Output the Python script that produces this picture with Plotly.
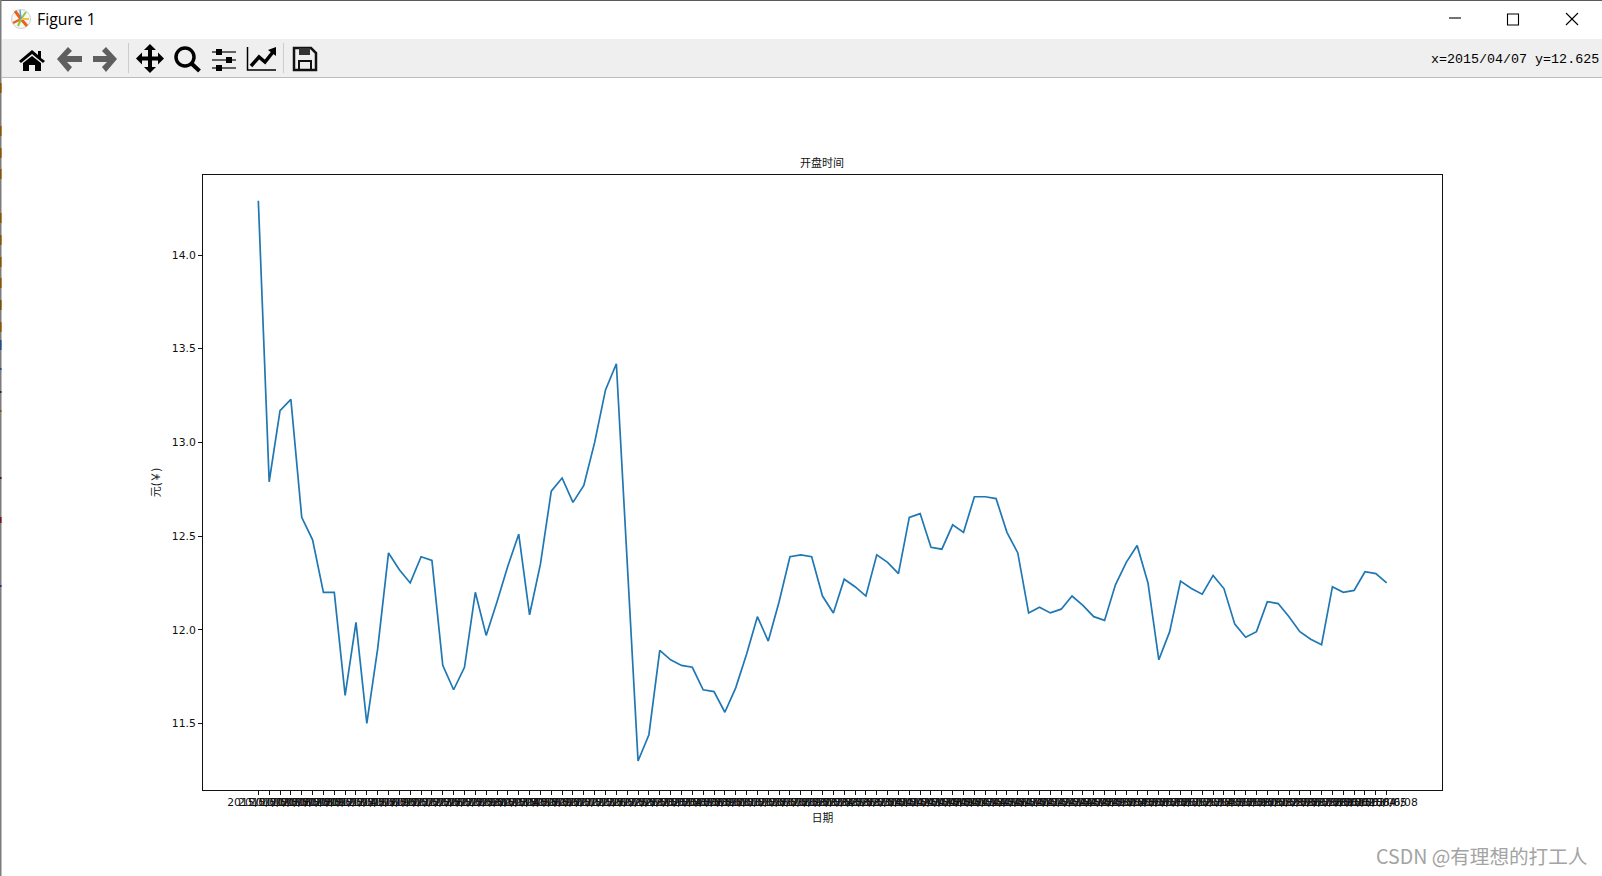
import plotly.graph_objects as go

dates = [
    "2015/01/02", "2015/01/05", "2015/01/06", "2015/01/07", "2015/01/08", "2015/01/09", "2015/01/12",
    "2015/01/13", "2015/01/14", "2015/01/15", "2015/01/16", "2015/01/19", "2015/01/20", "2015/01/21",
    "2015/01/22", "2015/01/23", "2015/01/26", "2015/01/27", "2015/01/28", "2015/01/29", "2015/01/30",
    "2015/02/02", "2015/02/03", "2015/02/04", "2015/02/05", "2015/02/06", "2015/02/09", "2015/02/10",
    "2015/02/11", "2015/02/12", "2015/02/13", "2015/02/16", "2015/02/17", "2015/02/25", "2015/02/26",
    "2015/02/27", "2015/03/02", "2015/03/03", "2015/03/04", "2015/03/05", "2015/03/06", "2015/03/09",
    "2015/03/10", "2015/03/11", "2015/03/12", "2015/03/13", "2015/03/16", "2015/03/17", "2015/03/18",
    "2015/03/19", "2015/03/20", "2015/03/23", "2015/03/24", "2015/03/25", "2015/03/26", "2015/03/27",
    "2015/03/30", "2015/03/31", "2015/04/01", "2015/04/02", "2015/04/03", "2015/04/07", "2015/04/08",
    "2015/04/09", "2015/04/10", "2015/04/13", "2015/04/14", "2015/04/15", "2015/04/16", "2015/04/17",
    "2015/04/20", "2015/04/21", "2015/04/22", "2015/04/23", "2015/04/24", "2015/04/27", "2015/04/28",
    "2015/04/29", "2015/04/30", "2015/05/04", "2015/05/05", "2015/05/06", "2015/05/07", "2015/05/08",
    "2015/05/11", "2015/05/12", "2015/05/13", "2015/05/14", "2015/05/15", "2015/05/18", "2015/05/19",
    "2015/05/20", "2015/05/21", "2015/05/22", "2015/05/25", "2015/05/26", "2015/05/27", "2015/05/28",
    "2015/05/29", "2015/06/01", "2015/06/02", "2015/06/03", "2015/06/04", "2015/06/05", "2015/06/08",
]
open_price = [
    14.29, 12.79, 13.17, 13.23, 12.60, 12.48, 12.20, 12.20, 11.65, 12.04,
    11.50, 11.90, 12.41, 12.32, 12.25, 12.39, 12.37, 11.81, 11.68, 11.80,
    12.20, 11.97, 12.15, 12.34, 12.51, 12.08, 12.35, 12.74, 12.81, 12.68,
    12.77, 13.00, 13.28, 13.42, 12.36, 11.30, 11.44, 11.89, 11.84, 11.81,
    11.80, 11.68, 11.67, 11.56, 11.69, 11.87, 12.07, 11.94, 12.15, 12.39,
    12.40, 12.39, 12.18, 12.09, 12.27, 12.23, 12.18, 12.40, 12.36, 12.30,
    12.60, 12.62, 12.44, 12.43, 12.56, 12.52, 12.71, 12.71, 12.70, 12.52,
    12.41, 12.09, 12.12, 12.09, 12.11, 12.18, 12.13, 12.07, 12.05, 12.24,
    12.36, 12.45, 12.25, 11.84, 11.99, 12.26, 12.22, 12.19, 12.29, 12.22,
    12.03, 11.96, 11.99, 12.15, 12.14, 12.07, 11.99, 11.95, 11.92, 12.23,
    12.20, 12.21, 12.31, 12.30, 12.25,
]
y_ticks = [11.5, 12.0, 12.5, 13.0, 13.5, 14.0]
y_tick_labels = ["11.5", "12.0", "12.5", "13.0", "13.5", "14.0"]
chart_title = "开盘时间"
x_title = "日期"
y_title = "元(￥)"
window_title = "Figure 1"
status_text = "x=2015/04/07 y=12.625"
watermark = "CSDN @有理想的打工人"

W, H = 1602, 876
L, R, T, B = 203, 1442, 175, 790
DJ = "DejaVu Sans"
CJK = "Noto Sans CJK SC"


def X(v):
    return (v - L) / (R - L)


def Y(v):
    return (B - v) / (B - T)


def path(points, close=False):
    s = "M" + " L".join(f"{X(a):.5f},{Y(b):.5f}" for a, b in points)
    return s + (" Z" if close else "")


shapes = []


def rect(x0, y0, x1, y1, fill, line=None, lw=0):
    shapes.append(dict(type="rect", xref="paper", yref="paper", x0=X(x0), x1=X(x1), y0=Y(y1), y1=Y(y0),
                       fillcolor=fill, line=dict(color=line or fill, width=lw), layer="above"))


def poly(points, fill="#000000"):
    shapes.append(dict(type="path", xref="paper", yref="paper", path=path(points, True),
                       fillcolor=fill, line=dict(width=0), layer="above"))


def stroke(points, color="#000000", lw=1.0):
    shapes.append(dict(type="path", xref="paper", yref="paper", path=path(points),
                       line=dict(color=color, width=lw), layer="above"))


def circle(cx, cy, r, fill="rgba(0,0,0,0)", line="#000000", lw=1.0):
    shapes.append(dict(type="circle", xref="paper", yref="paper", x0=X(cx - r), x1=X(cx + r),
                       y0=Y(cy + r), y1=Y(cy - r), fillcolor=fill, line=dict(color=line, width=lw), layer="above"))


# window edge and what shows behind it
rect(0, 0, W, 1, "#5a5a5a")
rect(0, 0, 1.5, H, "#7d7d7d")
for a, b, c in [(83, 93, "#8a5500"), (126, 136, "#8a5500"), (148, 158, "#8a5500"), (169, 179, "#8a5500"),
                (213, 223, "#8a5500"), (235, 245, "#8a5500"), (257, 267, "#8a5500"), (278, 288, "#8a5500"),
                (300, 310, "#7a5000"), (322, 332, "#8a5500"), (340, 350, "#1f4e8c"), (368, 370, "#1f4e8c"),
                (391, 393, "#402000"), (410, 412, "#8a5500"), (477, 479, "#4a1040"), (517, 523, "#7a1020"),
                (585, 587, "#1f2e8c")]:
    rect(0, a, 1.5, b, c)

# toolbar
rect(2, 39, W, 77, "#efefef")
rect(2, 77, W, 78, "#bdbdbd")
rect(128, 43, 129, 73, "#cccccc")
rect(283, 43, 284, 73, "#cccccc")

# logo
circle(21, 19, 9.5, fill="#f7f7f7", line="#cfcfcf", lw=1)
stroke([(21, 19), (15, 11)], "#e8641b", 3)
stroke([(21, 19), (13, 23)], "#e8641b", 2.5)
stroke([(21, 19), (27, 26)], "#e8641b", 3)
stroke([(21, 19), (26, 12)], "#8dc63f", 2)
stroke([(21, 19), (18, 26)], "#8dc63f", 2)
stroke([(21, 19), (29, 19)], "#f2c14e", 2)
stroke([(21, 19), (20, 10)], "#5b9bd5", 1.5)

# home
poly([(19, 61), (32, 50), (38, 55), (38, 51), (41, 51), (41, 58), (45, 61), (43, 63), (32, 54), (21, 63)])
poly([(23, 63), (32, 56), (41, 63), (41, 71), (35, 71), (35, 65), (29, 65), (29, 71), (23, 71)])
# back / forward
G = "#5f5f5f"
poly([(57, 59), (68, 47), (72, 51), (67, 56), (82, 56), (82, 62), (67, 62), (72, 67), (68, 72)], G)
poly([(117, 59), (106, 47), (102, 51), (107, 56), (93, 56), (93, 62), (107, 62), (102, 67), (106, 72)], G)
# move
poly([(150, 44), (156, 50), (152, 50), (152, 56.5), (158, 56.5), (158, 52.5), (164, 58.5), (158, 64.5),
      (158, 60.5), (152, 60.5), (152, 67), (156, 67), (150, 73), (144, 67), (148, 67), (148, 60.5),
      (142, 60.5), (142, 64.5), (136, 58.5), (142, 52.5), (142, 56.5), (148, 56.5), (148, 50), (144, 50)])
# zoom
circle(185, 57, 9, lw=3.5)
stroke([(191.5, 63.5), (199.5, 71)], "#000000", 4)
# sliders
for yy, kx in [(52, 219), (60, 229), (68, 219)]:
    stroke([(212, yy), (236, yy)], "#333333", 1.5)
    rect(kx - 3, yy - 3, kx + 3, yy + 3, "#000000")
# lines icon
stroke([(247.5, 47), (247.5, 70), (276, 70)], "#000000", 1.5)
stroke([(251, 66), (259, 57), (265, 62), (273, 52)], "#000000", 3.5)
poly([(268, 50), (276, 47), (276, 56)])
# save
shapes.append(dict(type="path", xref="paper", yref="paper",
                   path=path([(294, 48), (311, 48), (316, 53), (316, 70), (294, 70)], True),
                   fillcolor="rgba(0,0,0,0)", line=dict(color="#111111", width=2.5), layer="above"))
rect(299, 48, 310, 55, "#333333")
stroke([(299, 70), (299, 61), (311, 61), (311, 70)], "#111111", 2)
# window buttons
stroke([(1449, 18), (1461, 18)], "#000000", 1.1)
shapes.append(dict(type="rect", xref="paper", yref="paper", x0=X(1507.5), x1=X(1518.5), y0=Y(25), y1=Y(14),
                   line=dict(color="#000000", width=1.1), layer="above"))
stroke([(1566, 13), (1578, 25)], "#000000", 1.1)
stroke([(1578, 13), (1566, 25)], "#000000", 1.1)

annotations = [
    dict(text=window_title, x=X(35), y=Y(19.5), xref="paper", yref="paper", xanchor="left", yanchor="middle",
         showarrow=False, font=dict(family="Open Sans", size=15.8, color="#000000")),
    dict(text=status_text, x=X(1601), y=Y(60), xref="paper", yref="paper", xanchor="right", yanchor="middle",
         showarrow=False, font=dict(family="Liberation Mono", size=13.35, color="#000000")),
    dict(text=watermark, x=X(1589), y=Y(855), xref="paper", yref="paper", xanchor="right", yanchor="middle",
         showarrow=False, font=dict(family=CJK, size=19.6, color="#a3a3a3")),
]

fig = go.Figure(go.Scatter(x=dates, y=open_price, mode="lines", line=dict(color="#1f77b4", width=1.7),
                           hoverinfo="x+y", showlegend=False))

axis_common = dict(showgrid=False, zeroline=False, showline=True, mirror=True, linecolor="#111111", linewidth=1,
                   ticks="outside", ticklen=4, tickwidth=1, tickcolor="#111111",
                   tickfont=dict(family=DJ, size=10.8, color="#111111"))
fig.update_layout(
    width=W, height=H, autosize=False,
    margin=dict(l=L, r=W - R, t=T, b=H - B, pad=0),
    paper_bgcolor="white", plot_bgcolor="white",
    title=dict(text=chart_title, x=X(822), xref="paper", xanchor="center", y=1 - 163 / H, yref="container",
               yanchor="middle", font=dict(family=CJK, size=11, color="#111111")),
    xaxis=dict(type="category", range=[-5.1, 109.1], tickmode="array", tickvals=dates, ticktext=dates,
               tickangle=0, categoryorder="array", categoryarray=dates, ticklabelstandoff=-2,
               title=dict(text=x_title, font=dict(family=CJK, size=10.8, color="#111111"), standoff=6),
               **axis_common),
    yaxis=dict(range=[11.145, 14.427], tickmode="array", tickvals=y_ticks, ticktext=y_tick_labels,
               title=dict(text=y_title, font=dict(family=CJK, size=11, color="#111111"), standoff=8),
               **axis_common),
    shapes=shapes, annotations=annotations,
)

fig.write_html("out.html", config={"displayModeBar": False},
               post_script="document.body.style.margin='0';document.body.style.overflow='hidden';")
